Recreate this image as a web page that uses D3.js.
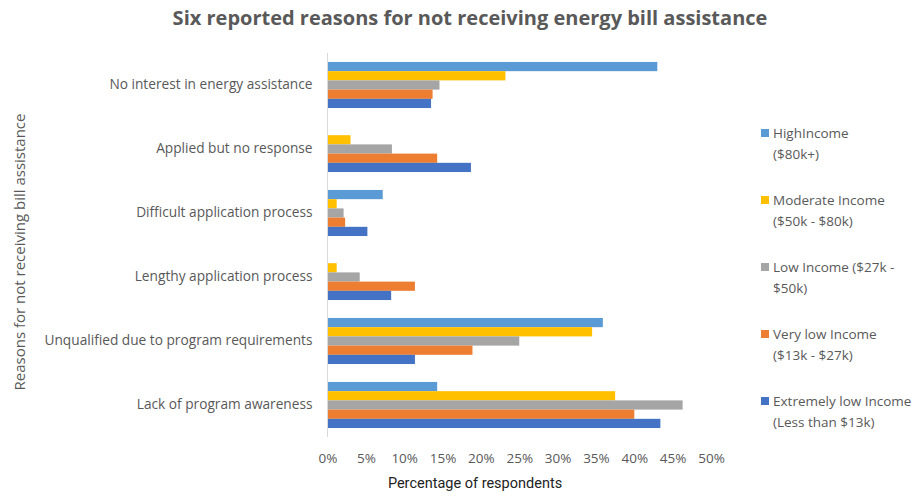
<!DOCTYPE html>
<html><head><meta charset="utf-8">
<script src="https://cdn.jsdelivr.net/npm/d3@7"></script>
<style>body{margin:0;background:#fff}</style>
</head><body><svg id="c" width="922" height="497"></svg>
<script>
const categories = ["No interest in energy assistance","Applied but no response","Difficult application process","Lengthy application process","Unqualified due to program requirements","Lack of program awareness"];
const seriesNames = ["HighIncome ($80k+)","Moderate Income ($50k - $80k)","Low Income ($27k - $50k)","Very low Income ($13k - $27k)","Extremely low Income (Less than $13k)"];
const legendLines = [["HighIncome","($80k+)"],["Moderate Income","($50k - $80k)"],["Low Income ($27k -","$50k)"],["Very low Income","($13k - $27k)"],["Extremely low Income","(Less than $13k)"]];
const highIncome     = [43.0, 0,    7.2, 0,    35.9, 14.3];
const moderateIncome = [23.2, 3.0,  1.2, 1.2,  34.5, 37.5];
const lowIncome      = [14.6, 8.4,  2.1, 4.2,  25.0, 46.3];
const veryLowIncome  = [13.7, 14.3, 2.3, 11.4, 18.9, 40.0];
const extremelyLow   = [13.5, 18.7, 5.2, 8.3,  11.4, 43.4];
const xTicks = [0,5,10,15,20,25,30,35,40,45,50];
const colors = ["#5B9BD5","#FFC000","#A5A5A5","#ED7D31","#4472C4"];
const series = [highIncome, moderateIncome, lowIncome, veryLowIncome, extremelyLow];

const svg = d3.select("#c");
const font = "'Open Sans', sans-serif";
const gray = "#595959";
const m = {left:327.5, right:711, top:53, bottom:437};

const x = d3.scaleLinear().domain([0,50]).range([m.left, m.right]);
const y = d3.scaleBand().domain(categories).range([m.top, m.bottom]).paddingInner(0.28).paddingOuter(0.14);
const ys = d3.scaleBand().domain(d3.range(5)).range([0, y.bandwidth()]);

svg.append("text").attr("x",470).attr("y",25).attr("text-anchor","middle")
  .attr("font-family",font).attr("font-weight","bold").attr("font-size",20).attr("fill",gray)
  .text("Six reported reasons for not receiving energy bill assistance");

const g = svg.append("g");
categories.forEach((c,ci)=>{
  series.forEach((s,si)=>{
    g.append("rect").attr("x",x(0)).attr("y",y(c)+ys(si))
      .attr("width",x(s[ci])-x(0)).attr("height",ys.bandwidth())
      .attr("fill",colors[si]);
  });
});

svg.append("line").attr("x1",x(0)).attr("x2",x(0)).attr("y1",m.top).attr("y2",m.bottom)
  .attr("stroke","#d9d9d9").attr("stroke-width",1);

const yAxis = svg.append("g").attr("transform",`translate(${x(0)},0)`)
  .call(d3.axisLeft(y).tickSize(0).tickPadding(15));
yAxis.select(".domain").remove();
yAxis.selectAll("text").attr("font-family",font).attr("font-size",13.7).attr("fill",gray);

const xAxis = svg.append("g").attr("transform",`translate(0,${m.bottom})`)
  .call(d3.axisBottom(x).tickValues(xTicks).tickFormat(d=>d+"%").tickSize(0).tickPadding(16));
xAxis.select(".domain").remove();
xAxis.selectAll("text").attr("font-family",font).attr("font-size",13.5).attr("fill",gray);

svg.append("text").attr("x",475).attr("y",488).attr("text-anchor","middle")
  .attr("font-family","Roboto, sans-serif").attr("font-size",14.5).attr("fill","#222")
  .text("Percentage of respondents");

svg.append("text").attr("transform","translate(25,252) rotate(-90)").attr("text-anchor","middle")
  .attr("font-family",font).attr("font-size",15).attr("fill",gray)
  .text("Reasons for not receiving bill assistance");

const lg = svg.append("g");
legendLines.forEach((lines,i)=>{
  const yy = 133 + i*67;
  lg.append("rect").attr("x",761).attr("y",yy-4).attr("width",8).attr("height",8).attr("fill",colors[i]);
  lines.forEach((t,li)=>{
    lg.append("text").attr("x",773).attr("y",yy+5+li*20.5)
      .attr("font-family",font).attr("font-size",13.5).attr("fill",gray).text(t);
  });
});
</script></body></html>
